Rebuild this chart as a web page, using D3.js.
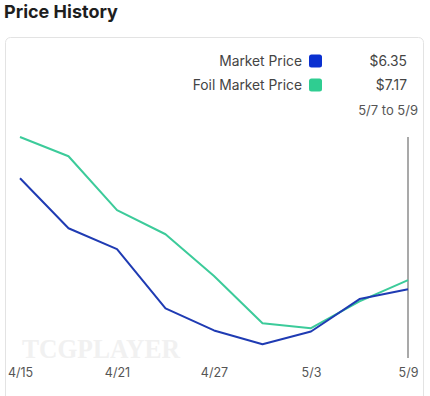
<!DOCTYPE html>
<html><head><meta charset="utf-8">
<script src="https://cdn.jsdelivr.net/npm/d3@7"></script>
<style>
html,body{margin:0;padding:0;background:#fff;}
svg{display:block;font-family:Inter,"Open Sans",sans-serif;}
</style></head>
<body>
<svg id="c" width="430" height="396"></svg>
<script>
const dates = ["4/15","4/18","4/21","4/24","4/27","4/30","5/3","5/6","5/9"];
const tickLabels = ["4/15","4/21","4/27","5/3","5/9"];
const marketPrice = [16.45, 11.90, 10.00, 4.60, 2.60, 1.35, 2.50, 5.45, 6.35];
const foilMarketPrice = [20.20, 18.45, 13.55, 11.35, 7.55, 3.25, 2.80, 5.25, 7.17];
const seriesNames = ["Market Price","Foil Market Price"];
const seriesColors = ["#1f3bb3","#3ccb9a"];
const swatchColors = ["#0a30d0","#2fcd91"];
const rangeLabel = "5/7 to 5/9";

const svg = d3.select("#c");

svg.append("text").attr("x",4).attr("y",18)
  .attr("font-size",18).attr("font-weight",700).attr("fill","#1e1e1e")
  .text("Price History");

svg.append("rect").attr("x",5.5).attr("y",37.5).attr("width",418).attr("height",380)
  .attr("rx",5).attr("fill","#fff").attr("stroke","#e3e3e3");

const x = d3.scalePoint().domain(dates).range([20,408]);
const y = d3.scaleLinear().domain([0, d3.max(foilMarketPrice.concat(marketPrice))]).range([359,137]);

// watermark
svg.append("text").attr("x",22).attr("y",358)
  .attr("font-family","'Liberation Serif','DejaVu Serif',serif").attr("font-weight",700)
  .attr("font-size",28).attr("fill","#f1f1f1")
  .attr("textLength",158).attr("lengthAdjust","spacingAndGlyphs")
  .text("TCGPLAYER");

// vertical hover line
svg.append("line").attr("x1",x("5/9")).attr("x2",x("5/9")).attr("y1",137).attr("y2",358)
  .attr("stroke","#a9a9a9").attr("stroke-width",2);

const line = d3.line().x((d,i)=>x(dates[i])).y(d=>y(d));
[foilMarketPrice, marketPrice].forEach((s,k)=>{
  const idx = k===0 ? 1 : 0;
  svg.append("path").datum(s).attr("d",line).attr("fill","none")
    .attr("stroke",seriesColors[idx]).attr("stroke-width",2).attr("stroke-linejoin","round");
});

// x axis
const xAxis = d3.axisBottom(x).tickValues(tickLabels).tickSize(0).tickPadding(0);
const ax = svg.append("g").attr("transform","translate(0,368)").call(xAxis);
ax.select(".domain").remove();
ax.selectAll("text").attr("font-size",12.5).attr("fill","#555").attr("font-family","Inter,sans-serif");

// legend
const lastVals = [marketPrice[marketPrice.length-1], foilMarketPrice[foilMarketPrice.length-1]];
seriesNames.forEach((n,i)=>{
  const yy = 61 + i*24;
  svg.append("text").attr("x",302).attr("y",yy).attr("dy","0.35em").attr("text-anchor","end")
    .attr("font-size",13.8).attr("fill","#444").text(n);
  svg.append("rect").attr("x",309).attr("y",yy-6.5).attr("width",13).attr("height",13).attr("rx",2.5)
    .attr("fill",swatchColors[i]);
  svg.append("text").attr("x",407).attr("y",yy).attr("dy","0.35em").attr("text-anchor","end")
    .attr("font-size",13.8).attr("fill","#444").text("$"+lastVals[i].toFixed(2));
});
svg.append("text").attr("x",418).attr("y",110).attr("dy","0.35em").attr("text-anchor","end")
  .attr("font-size",13).attr("fill","#555").text(rangeLabel);
</script>
</body></html>
